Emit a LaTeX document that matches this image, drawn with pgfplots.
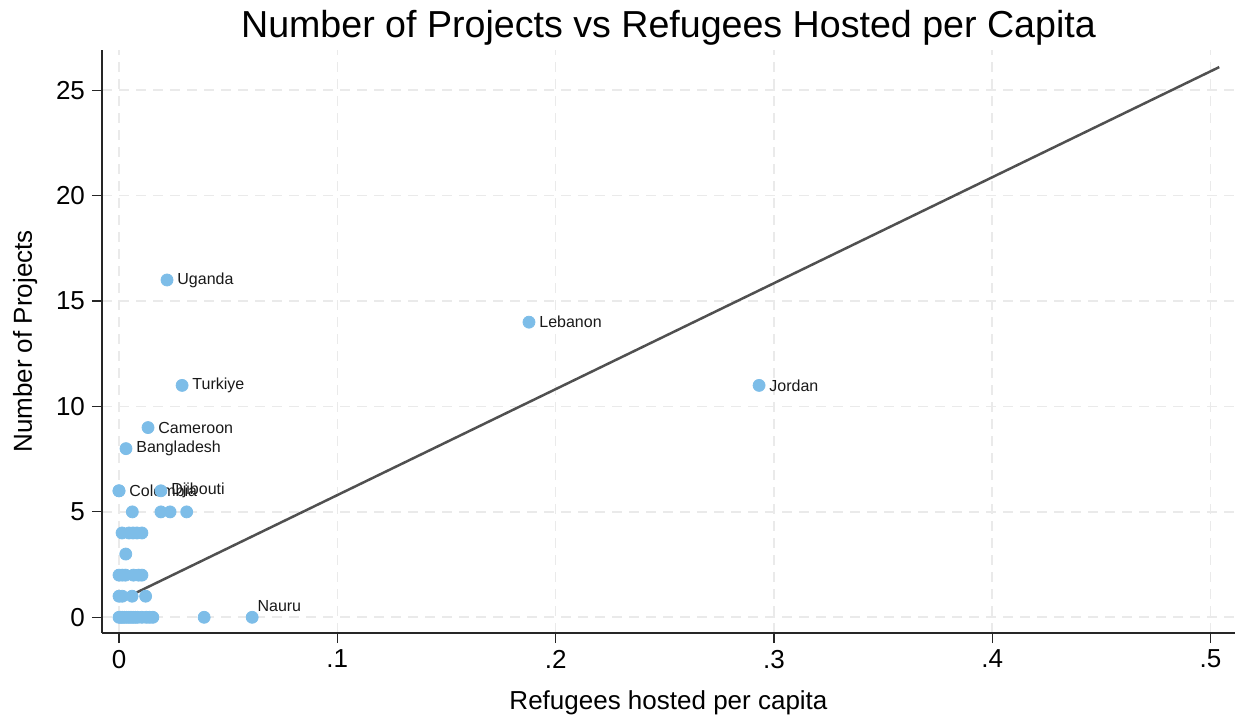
\documentclass[border=0pt]{standalone}
\usepackage{pgfplots}
\usepackage{pgfplotstable}
\pgfplotsset{compat=1.18}
\usepackage{fontspec}
\setmainfont{Liberation Sans}
\definecolor{mkblue}{RGB}{125,189,232}
\definecolor{fitgray}{RGB}{80,80,80}
\definecolor{gridgray}{RGB}{234,234,234}

\pgfplotstableread{
x y
0.0000 6
0.0061 5
0.0192 5
0.0234 5
0.0310 5
0.0014 4
0.0046 4
0.0064 4
0.0082 4
0.0105 4
0.0031 3
0.0000 2
0.0015 2
0.0030 2
0.0066 2
0.0090 2
0.0105 2
0.0000 1
0.0015 1
0.0060 1
0.0122 1
0.0000 0
0.0008 0
0.0016 0
0.0025 0
0.0035 0
0.0045 0
0.0055 0
0.0065 0
0.0075 0
0.0085 0
0.0105 0
0.0125 0
0.0140 0
0.0155 0
0.0390 0
}\unlabeled

\pgfplotstableread{
x y label
0.0220 16 Uganda
0.1878 14 Lebanon
0.0289 11 Turkiye
0.2932 11 Jordan
0.0133 9 Cameroon
0.0032 8 Bangladesh
0.0000 6 Colombia
0.0192 6 Djibouti
}\labeled

\pgfplotstableread{
x y label
0.0610 0 Nauru
}\labeledabove

\begin{document}
\begin{tikzpicture}
\path[use as bounding box] (-51pt,-43pt) rectangle (568.5pt,316.5pt);
\begin{axis}[
  at={(0,0)}, anchor=south west,
  scale only axis,
  width=566.5pt, height=291.5pt,
  xmin=-0.00779, xmax=0.5112,
  ymin=-0.745, ymax=26.91,
  axis x line*=bottom, axis y line*=left,
  axis line style={draw=black!85, line width=0.6pt},
  xtick={0,0.1,0.2,0.3,0.4,0.5},
  xticklabels={0,.1,.2,.3,.4,.5},
  ytick={0,5,10,15,20,25},
  tick align=outside,
  major tick length=5pt,
  tick style={draw=black!85, line width=0.6pt},
  /pgf/number format/assume math mode=true,
  tick label style={font=\fontsize{13}{13}\selectfont},
  grid=major,
  major grid style={dash pattern=on 5pt off 3.5pt, draw=gridgray, line width=0.8pt},
  title={Number of Projects vs Refugees Hosted per Capita},
  title style={at={(0.5,1)}, anchor=base, yshift=0pt, font=\fontsize{18.8}{18.8}\selectfont},
  xlabel={Refugees hosted per capita},
  xlabel style={at={(0.5,0)}, anchor=base, yshift=-38pt, font=\fontsize{13}{13}\selectfont},
  clip=false,
]
\addplot[mkblue, only marks, mark=*, mark size=3pt, mark options={draw=mkblue, fill=mkblue}] table[x=x,y=y] {\unlabeled};
\addplot[mkblue, only marks, mark=*, mark size=3pt, mark options={draw=mkblue, fill=mkblue},
  nodes near coords, point meta=explicit symbolic,
  nodes near coords style={anchor=west, inner sep=0pt, xshift=5pt, font=\fontsize{8}{8}\selectfont, text=black!90}]
  table[x=x,y=y,meta=label] {\labeled};
\addplot[mkblue, only marks, mark=*, mark size=3pt, mark options={draw=mkblue, fill=mkblue},
  nodes near coords, point meta=explicit symbolic,
  nodes near coords style={anchor=south west, inner sep=0pt, xshift=2.5pt, yshift=2.5pt, font=\fontsize{8}{8}\selectfont, text=black!90}]
  table[x=x,y=y,meta=label] {\labeledabove};
\addplot[fitgray, line width=1.25pt] coordinates {(0,0.77) (0.504,26.1)};
\node[rotate=90, anchor=base, inner sep=0pt, font=\fontsize{13}{13}\selectfont, text=black] at ([xshift=-35pt]rel axis cs:0,0.5) {Number of Projects};
\end{axis}
\end{tikzpicture}
\end{document}
